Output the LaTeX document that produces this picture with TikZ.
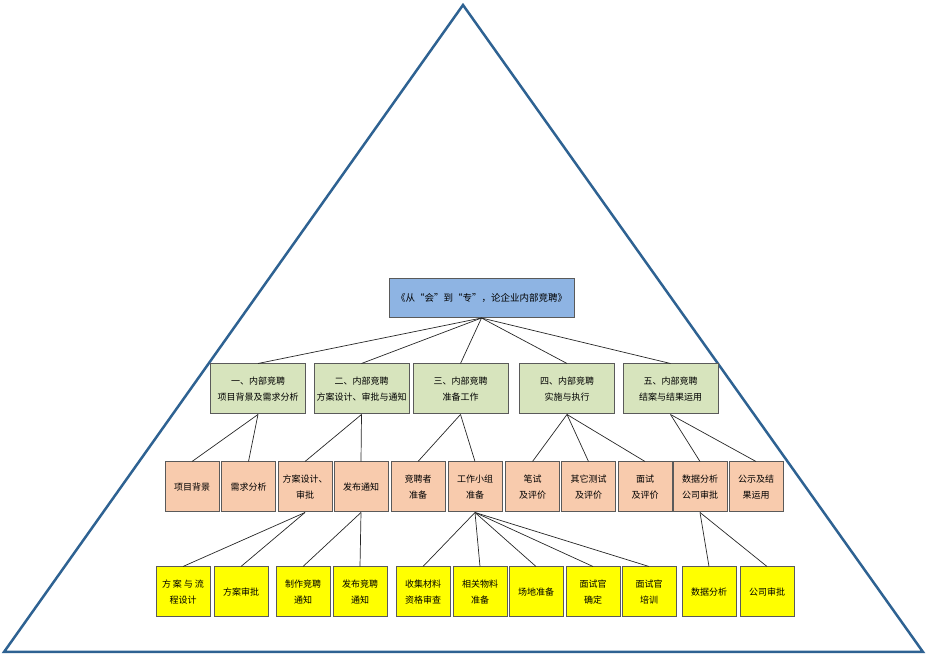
\documentclass[tikz,border=0pt]{standalone}
\usepackage{fontspec}
\setmainfont{Noto Sans CJK SC}
\definecolor{triline}{RGB}{46,98,146}
\definecolor{topblue}{RGB}{142,180,227}
\definecolor{lgreen}{RGB}{215,228,189}
\definecolor{lorange}{RGB}{248,203,173}
\definecolor{lyellow}{RGB}{255,255,0}
\definecolor{boxedge}{RGB}{90,90,90}
\tikzset{box/.style={draw=boxedge,line width=1pt,inner sep=1pt,align=center,font=\fontsize{9}{16}\selectfont},
  lvlone/.style={box,fill=topblue,minimum width=185pt,minimum height=39pt,font=\fontsize{9.5}{16}\selectfont},
  lvltwo/.style={box,fill=lgreen,minimum width=95pt,minimum height=50pt},
  lvlthree/.style={box,fill=lorange,minimum width=54pt,minimum height=50pt},
  lvlfour/.style={box,fill=lyellow,minimum width=54pt,minimum height=50pt},
  link/.style={draw=black!85,line width=0.7pt}}
\begin{document}
\begin{tikzpicture}[x=1pt,y=1pt]
    \useasboundingbox (0,0) rectangle (927,656);
    \draw [triline,line width=2.5pt] (4,4) to (463,651) to (923,4) to cycle;
    \node[lvlone] (t) at (481.5,358) {《从“会”到“专”，论企业内部竞聘》};
    \foreach \x/\n/\txt in {258/b1/{一、内部竞聘\\项目背景及需求分析},361.5/b2/{二、内部竞聘\\方案设计、审批与通知},
        460.5/b3/{三、内部竞聘\\准备工作},567/b4/{四、内部竞聘\\实施与执行},670.5/b5/{五、内部竞聘\\结案与结果运用}}
    \node[lvltwo] (\n) at (\x,267) {\txt};
    \foreach \x/\n/\txt in {192/c1/{项目背景},248.5/c2/{需求分析},305/c3/{方案设计、\\审批},361/c4/{发布通知},
        418/c5/{竞聘者\\准备},475/c6/{工作小组\\准备},532.5/c7/{笔试\\及评价},588.5/c8/{其它测试\\及评价},
        645/c9/{面试\\及评价},700/c10/{数据分析\\公司审批},756/c11/{公示及结\\果运用}}
    \node[lvlthree] (\n) at (\x,169) {\txt};
    \foreach \x/\n/\txt in {183/d1/{方\hspace{2pt}案\hspace{2pt}与\hspace{2pt}流\\程设计\hfill},241/d2/{方案审批},
        303/d3/{制作竞聘\\通知},360/d4/{发布竞聘\\通知},423/d5/{收集材料\\资格审查},480/d6/{相关物料\\准备},
        536/d7/{场地准备},593/d8/{面试官\\确定},649/d9/{面试官\\培训},709/d10/{数据分析},767/d11/{公司审批}}
    \node[lvlfour] (\n) at (\x,64) {\txt};
    % connectors
    \foreach \n in {b1,b2,b3,b4,b5}
    \draw [link] (t.south) to (\n.north);
    \foreach \a/\b in {b1/c1,b1/c2,b2/c3,b2/c4,b3/c5,b3/c6,b4/c7,b4/c8,b4/c9,b5/c10,b5/c11,
        c3/d1,c3/d2,c4/d3,c4/d4,c6/d5,c6/d6,c6/d7,c6/d8,c6/d9,c10/d10,c10/d11}
    \draw [link] (\a.south) to (\b.north);
\end{tikzpicture}
\end{document}
